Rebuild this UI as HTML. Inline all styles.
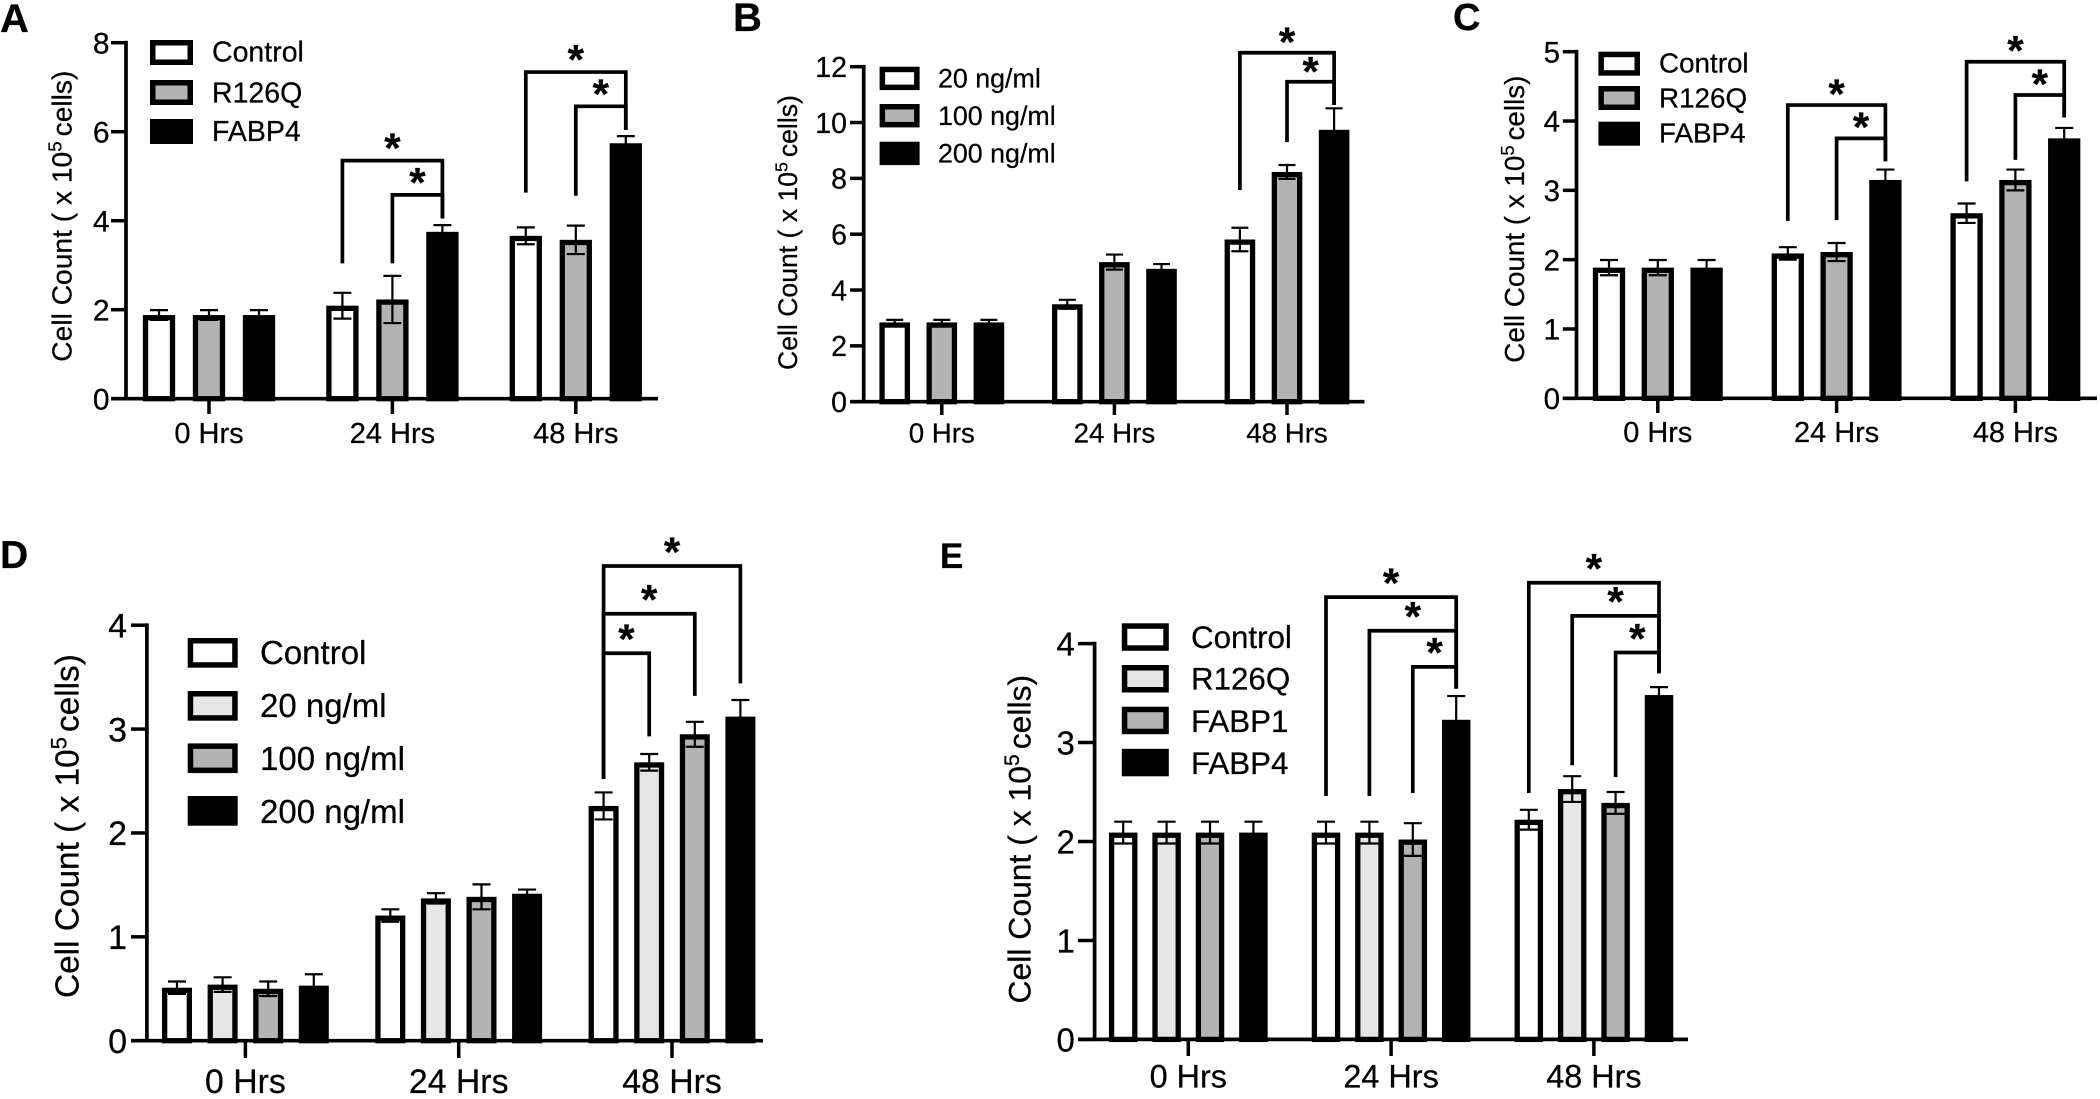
<!DOCTYPE html>
<html lang="en">
<head>
<meta charset="utf-8">
<title>Cell count bar charts, panels A to E</title>
<style>
  html, body { margin: 0; padding: 0; background: #fff; }
  #figure { display: block; width: 2100px; height: 1099px; background: #fff; font-family: "Liberation Sans", Arial, sans-serif; }
  text { fill: #000; stroke: #000; stroke-width: 0.25px; font-family: "Liberation Sans", Arial, sans-serif; }
</style>
</head>
<body>
<svg id="figure" xmlns="http://www.w3.org/2000/svg" width="2100" height="1099" viewBox="0 0 2100 1099"></svg>
<script>
// Shared category labels
const hourLabels = ['0 Hrs', '24 Hrs', '48 Hrs'];

// Panel A
const aTicks = [0, 2, 4, 6, 8];
const aSeriesNames = ['Control', 'R126Q', 'FABP4'];
const aControl = [1.88, 2.09, 3.66];
const aR126Q = [1.88, 2.23, 3.57];
const aFabp4 = [1.88, 3.75, 5.74];
const aControlErr = [0.11, 0.29, 0.19];
const aR126QErr = [0.11, 0.53, 0.32];
const aFabp4Err = [0.11, 0.15, 0.16];
// group, from-bar, to-bar, top value, from-end value, to-end value
const aBrackets = [
  [1, 0, 2, 5.35, 3.04, 4.05],
  [1, 1, 2, 4.58, 3.04, 4.05],
  [2, 0, 2, 7.34, 4.63, 6.04],
  [2, 1, 2, 6.57, 4.56, 6.04]
];

// Panel B
const bTicks = [0, 2, 4, 6, 8, 10, 12];
const bSeriesNames = ['20 ng/ml', '100 ng/ml', '200 ng/ml'];
const b20 = [2.84, 3.49, 5.81];
const b100 = [2.84, 5.0, 8.23];
const b200 = [2.84, 4.76, 9.74];
const b20Err = [0.09, 0.16, 0.42];
const b100Err = [0.09, 0.27, 0.25];
const b200Err = [0.09, 0.17, 0.77];
const bBrackets = [
  [2, 0, 2, 12.5, 7.58, 10.63],
  [2, 1, 2, 11.46, 9.3, 10.63]
];

// Panel C
const cTicks = [0, 1, 2, 3, 4, 5];
const cSeriesNames = ['Control', 'R126Q', 'FABP4'];
const cControl = [1.885, 2.09, 2.67];
const cR126Q = [1.885, 2.11, 3.15];
const cFabp4 = [1.885, 3.15, 3.75];
const cControlErr = [0.11, 0.09, 0.14];
const cR126QErr = [0.11, 0.13, 0.15];
const cFabp4Err = [0.11, 0.15, 0.15];
const cBrackets = [
  [1, 0, 2, 4.23, 2.56, 3.42],
  [1, 1, 2, 3.75, 2.57, 3.42],
  [2, 0, 2, 4.855, 3.13, 4.05],
  [2, 1, 2, 4.375, 3.44, 4.05]
];

// Panel D
const dTicks = [0, 1, 2, 3, 4];
const dSeriesNames = ['Control', '20 ng/ml', '100 ng/ml', '200 ng/ml'];
const dControl = [0.51, 1.205, 2.26];
const d20 = [0.54, 1.37, 2.68];
const d100 = [0.5, 1.385, 2.95];
const d200 = [0.53, 1.415, 3.12];
const dControlErr = [0.06, 0.06, 0.13];
const d20Err = [0.07, 0.05, 0.08];
const d100Err = [0.07, 0.12, 0.12];
const d200Err = [0.11, 0.04, 0.16];
const dBrackets = [
  [2, 0, 3, 4.57, 2.52, 3.44],
  [2, 0, 2, 4.11, 2.52, 3.32],
  [2, 0, 1, 3.73, 2.52, 2.93]
];

// Panel E
const eTicks = [0, 1, 2, 3, 4];
const eSeriesNames = ['Control', 'R126Q', 'FABP1', 'FABP4'];
const eControl = [2.09, 2.09, 2.22];
const eR126Q = [2.09, 2.09, 2.53];
const eFabp1 = [2.09, 2.02, 2.39];
const eFabp4 = [2.09, 3.23, 3.48];
const eControlErr = [0.11, 0.11, 0.1];
const eR126QErr = [0.11, 0.11, 0.13];
const eFabp1Err = [0.11, 0.165, 0.11];
const eFabp4Err = [0.11, 0.24, 0.08];
const eBrackets = [
  [1, 0, 3, 4.47, 2.46, 3.545],
  [1, 1, 3, 4.13, 2.46, 3.545],
  [1, 2, 3, 3.765, 2.49, 3.545],
  [2, 0, 3, 4.615, 2.49, 3.7],
  [2, 1, 3, 4.28, 2.77, 3.7],
  [2, 2, 3, 3.91, 2.65, 3.7]
];

const WHITE = '#ffffff', LIGHT = '#e6e6e6', GRAY = '#b3b3b3', BLACK = '#000000';
const NS = 'http://www.w3.org/2000/svg';
const figure = document.getElementById('figure');

function make(parent, tag, attrs, content) {
  const el = document.createElementNS(NS, tag);
  for (const k in attrs) el.setAttribute(k, attrs[k]);
  if (content !== undefined) el.textContent = content;
  parent.appendChild(el);
  return el;
}

function drawPanel(p) {
  const root = make(figure, 'g', {});
  
  

  const yScale = v => p.y0 - (v / p.yMax) * (p.y0 - p.yTop);
  const xScale = (g, b) => p.first + g * p.groupStep + b * p.barStep;

  const letter = make(root, 'text', { x: p.letterX, y: p.letterY, 'font-size': p.letterSize, 'font-weight': 'bold' }, p.letter);
  
  

  // bars and error bars
  p.values.forEach((series, s) => {
    series.forEach((v, g) => {
      const cx = xScale(g, s), top = yScale(v) + p.barStroke / 2;
      const bar = make(root, 'rect', {
        x: cx - p.barWidth / 2 + p.barStroke / 2, y: top,
        width: p.barWidth - p.barStroke, height: Math.max(0, p.y0 - top),
        fill: p.fills[s], stroke: BLACK, 'stroke-width': p.barStroke
      });
      
      

      const e = p.errors[s][g], hi = yScale(v + e), lo = yScale(v - e), c = p.capWidth / 2;
      const err = make(root, 'path', {
        d: `M${cx - c} ${hi}H${cx + c}M${cx} ${hi}V${lo}M${cx - c} ${lo}H${cx + c}`,
        fill: 'none', stroke: BLACK, 'stroke-width': 2.2
      });
      
      
    });
  });

  // axes
  const yAxis = make(root, 'line', { x1: p.axisX, x2: p.axisX, y1: p.yTop - 1.85, y2: p.y0, stroke: BLACK, 'stroke-width': 3.7 });
  
  
  const xAxis = make(root, 'line', { x1: p.tickLeft, x2: p.xEnd, y1: p.y0, y2: p.y0, stroke: BLACK, 'stroke-width': 3.7 });
  
  

  p.ticks.forEach(t => {
    const y = yScale(t);
    const tick = make(root, 'line', { x1: p.tickLeft, x2: p.axisX, y1: y, y2: y, stroke: BLACK, 'stroke-width': 3.5 });
    
    
    const label = make(root, 'text', { x: p.tickLabelX, y: y + p.yTickSize * 0.36, 'font-size': p.yTickSize, 'text-anchor': 'end' }, String(t));
    
    
  });

  hourLabels.forEach((name, g) => {
    const x = xScale(g, (p.values.length - 1) / 2);
    const tick = make(root, 'line', { x1: x, x2: x, y1: p.y0, y2: p.tickBottom, stroke: BLACK, 'stroke-width': 3.5 });
    
    
    const label = make(root, 'text', { x: x, y: p.xLabelY, 'font-size': p.xLabelSize, 'text-anchor': 'middle' }, name);
    
    
  });

  // y-axis title
  const title = make(root, 'text', { transform: `translate(${p.titleX},${p.titleY}) rotate(-90)`, 'font-size': p.titleSize });
  
  
  make(title, 'tspan', {}, 'Cell Count ( x 10');
  make(title, 'tspan', { dy: -p.titleSize * 0.36, 'font-size': p.titleSize * 0.66 }, '5');
  make(title, 'tspan', { dy: p.titleSize * 0.36, dx: 5 }, 'cells)');

  // legend
  p.names.forEach((name, s) => {
    const swatch = make(root, 'rect', {
      x: p.legendX + 2.75, y: p.legendYs[s] + 2.75,
      width: p.legendW - 5.5, height: p.legendH - 5.5,
      fill: p.fills[s], stroke: BLACK, 'stroke-width': 5.5
    });
    
    
    const text = make(root, 'text', { x: p.legendTextX, y: p.legendBase[s], 'font-size': p.legendSize }, name);
    
    
  });

  // significance brackets
  p.brackets.forEach(br => {
    const [g, from, to, top, fromEnd, toEnd] = br;
    const x1 = xScale(g, from), x2 = xScale(g, to), yt = yScale(top);
    const bracket = make(root, 'path', {
      d: `M${x1} ${yScale(fromEnd)}V${yt}H${x2}V${yScale(toEnd)}`,
      fill: 'none', stroke: BLACK, 'stroke-width': 3.7, 'stroke-linejoin': 'miter'
    });
    
    
    const star = make(root, 'text', {
      x: (x1 + x2) / 2, y: yt - p.starGap + 42 * 0.5,
      'font-size': 42, 'font-weight': 'bold', 'text-anchor': 'middle'
    }, '*');
    
    
  });
}

drawPanel({
  letter: 'A', letterX: 0, letterY: 32, letterSize: 40,
  ticks: aTicks, yMax: 8, names: aSeriesNames,
  values: [aControl, aR126Q, aFabp4], errors: [aControlErr, aR126QErr, aFabp4Err], brackets: aBrackets,
  fills: [WHITE, GRAY, BLACK],
  axisX: 126, tickLeft: 111, xEnd: 658, y0: 398.7, yTop: 42.7, tickBottom: 414,
  first: 159, barStep: 50, groupStep: 183.4, barWidth: 32.3, barStroke: 5.3, capWidth: 18,
  tickLabelX: 109.5, yTickSize: 30, xLabelY: 443, xLabelSize: 29,
  titleX: 71.5, titleY: 361.7, titleSize: 28.2,
  legendX: 150, legendW: 43, legendH: 25, legendYs: [40, 80, 119], legendTextX: 212,
  legendBase: [61.7, 102.7, 141], legendSize: 28.5, starGap: 19
});

drawPanel({
  letter: 'B', letterX: 733, letterY: 31, letterSize: 40,
  ticks: bTicks, yMax: 12, names: bSeriesNames,
  values: [b20, b100, b200], errors: [b20Err, b100Err, b200Err], brackets: bBrackets,
  fills: [WHITE, GRAY, BLACK],
  axisX: 863.7, tickLeft: 850, xEnd: 1364.5, y0: 401.7, yTop: 66.7, tickBottom: 415,
  first: 894.7, barStep: 47.1, groupStep: 172.6, barWidth: 30.6, barStroke: 5.3, capWidth: 17,
  tickLabelX: 847, yTickSize: 28.5, xLabelY: 442.7, xLabelSize: 27.7,
  titleX: 797, titleY: 370, titleSize: 26.6,
  legendX: 879.6, legendW: 40, legendH: 23.4, legendYs: [66.7, 104, 141.7], legendTextX: 938,
  legendBase: [87.3, 125, 162.7], legendSize: 26.8, starGap: 17
});

drawPanel({
  letter: 'C', letterX: 1453, letterY: 30, letterSize: 38,
  ticks: cTicks, yMax: 5, names: cSeriesNames,
  values: [cControl, cR126Q, cFabp4], errors: [cControlErr, cR126QErr, cFabp4Err], brackets: cBrackets,
  fills: [WHITE, GRAY, BLACK],
  axisX: 1576.5, tickLeft: 1562.8, xEnd: 2097, y0: 398.3, yTop: 51.7, tickBottom: 413,
  first: 1609, barStep: 48.8, groupStep: 178.8, barWidth: 32.3, barStroke: 5.3, capWidth: 18,
  tickLabelX: 1560, yTickSize: 29.5, xLabelY: 442, xLabelSize: 28.9,
  titleX: 1523.8, titleY: 362.7, titleSize: 27.8,
  legendX: 1598.4, legendW: 41.6, legendH: 24, legendYs: [51.7, 86, 121.7], legendTextX: 1659,
  legendBase: [72.7, 107.3, 142.7], legendSize: 27.8, starGap: 17.7
});

drawPanel({
  letter: 'D', letterX: 0, letterY: 568, letterSize: 39,
  ticks: dTicks, yMax: 4, names: dSeriesNames,
  values: [dControl, d20, d100, d200], errors: [dControlErr, d20Err, d100Err, d200Err], brackets: dBrackets,
  fills: [WHITE, LIGHT, GRAY, BLACK],
  axisX: 146.9, tickLeft: 131, xEnd: 763, y0: 1040.7, yTop: 625.2, tickBottom: 1058,
  first: 177, barStep: 45.6, groupStep: 213.3, barWidth: 30, barStroke: 5.3, capWidth: 18,
  tickLabelX: 127, yTickSize: 34, xLabelY: 1093, xLabelSize: 33.8,
  titleX: 78.5, titleY: 998, titleSize: 33.4,
  legendX: 187.7, legendW: 50, legendH: 29.7, legendYs: [638, 691, 743.4, 796], legendTextX: 260,
  legendBase: [664, 716.8, 770, 822.8], legendSize: 33, starGap: 20.7
});

drawPanel({
  letter: 'E', letterX: 940, letterY: 568, letterSize: 35,
  ticks: eTicks, yMax: 4, names: eSeriesNames,
  values: [eControl, eR126Q, eFabp1, eFabp4], errors: [eControlErr, eR126QErr, eFabp1Err, eFabp4Err], brackets: eBrackets,
  fills: [WHITE, LIGHT, GRAY, BLACK],
  axisX: 1094.6, tickLeft: 1078, xEnd: 1688, y0: 1039.4, yTop: 643.6, tickBottom: 1056,
  first: 1123.2, barStep: 43.4, groupStep: 202.8, barWidth: 28.5, barStroke: 5.3, capWidth: 18,
  tickLabelX: 1074.8, yTickSize: 33, xLabelY: 1087.7, xLabelSize: 32.4,
  titleX: 1030.6, titleY: 1003.5, titleSize: 31.9,
  legendX: 1121.8, legendW: 47, legendH: 27.5, legendYs: [623.3, 665, 706.7, 748.8], legendTextX: 1191,
  legendBase: [648, 689.6, 732, 773.8], legendSize: 31.3, starGap: 20.7
});
</script>
</body>
</html>
